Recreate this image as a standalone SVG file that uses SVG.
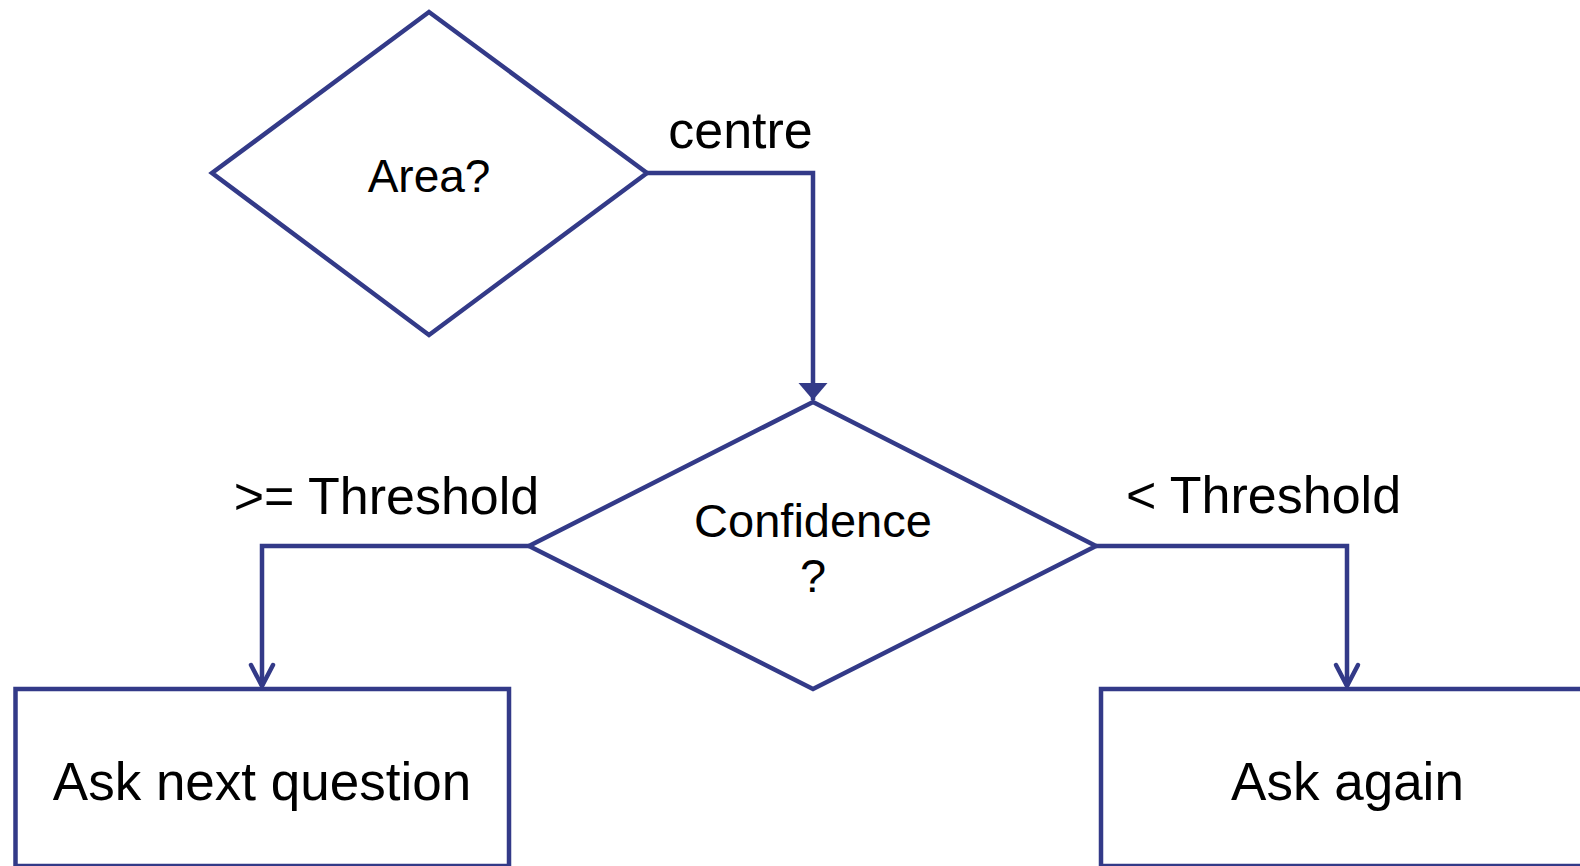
<svg xmlns="http://www.w3.org/2000/svg" width="1580" height="866" viewBox="0 0 1580 866">
  <style>
    .shape { fill: #ffffff; stroke: #333a88; stroke-width: 4.5; stroke-linejoin: miter; }
    .wire { fill: none; stroke: #333a88; stroke-width: 4.5; stroke-linejoin: miter; }
    .lbl { font-family: "Liberation Sans", Arial, sans-serif; fill: #000000; text-anchor: middle; }
  </style>
  <defs>
    <marker id="arrow-solid" markerUnits="userSpaceOnUse" orient="auto" refX="0" refY="0" markerWidth="40" markerHeight="40" overflow="visible">
      <path d="M-17,-14.5 L0,0 L-17,14.5 Z" fill="#333a88"/>
    </marker>
    <marker id="arrow-open" markerUnits="userSpaceOnUse" orient="auto" refX="0" refY="0" markerWidth="40" markerHeight="40" overflow="visible">
      <path d="M-21,-11 L0,0 L-21,11" fill="none" stroke="#333a88" stroke-width="4.5" stroke-linecap="round" stroke-linejoin="round"/>
    </marker>
  </defs>

  <rect width="1580" height="866" fill="#ffffff"/>

  <!-- connectors -->
  <g id="connectors">
    <path class="wire" d="M647,173 H813 V400" marker-end="url(#arrow-solid)"/>
    <path class="wire" d="M529,546 H262 V686" marker-end="url(#arrow-open)"/>
    <path class="wire" d="M1096,546 H1347 V686" marker-end="url(#arrow-open)"/>
    <text class="lbl" x="740.5" y="148" font-size="52">centre</text>
    <text class="lbl" x="386.5" y="514" font-size="52">&gt;= Threshold</text>
    <text class="lbl" x="1263.5" y="513" font-size="52">&lt; Threshold</text>
  </g>

  <!-- decision: area -->
  <g id="area">
    <polygon class="shape" points="429,12 647,173 429,335 212,173"/>
    <text class="lbl" x="429" y="192" font-size="46">Area?</text>
  </g>

  <!-- decision: confidence -->
  <g id="confidence">
    <polygon class="shape" points="813,402 1096,546 813,689 529,546"/>
    <text class="lbl" x="813" y="537" font-size="47">Confidence</text>
    <text class="lbl" x="813" y="592" font-size="47">?</text>
  </g>

  <!-- action: next question -->
  <g id="ask-next">
    <rect class="shape" x="15.5" y="689" width="493.5" height="177"/>
    <text class="lbl" x="262" y="800" font-size="53">Ask next question</text>
  </g>

  <!-- action: repeat -->
  <g id="ask-again">
    <rect class="shape" x="1101" y="689" width="493" height="177"/>
    <text class="lbl" x="1347.5" y="800" font-size="53">Ask again</text>
  </g>
</svg>
